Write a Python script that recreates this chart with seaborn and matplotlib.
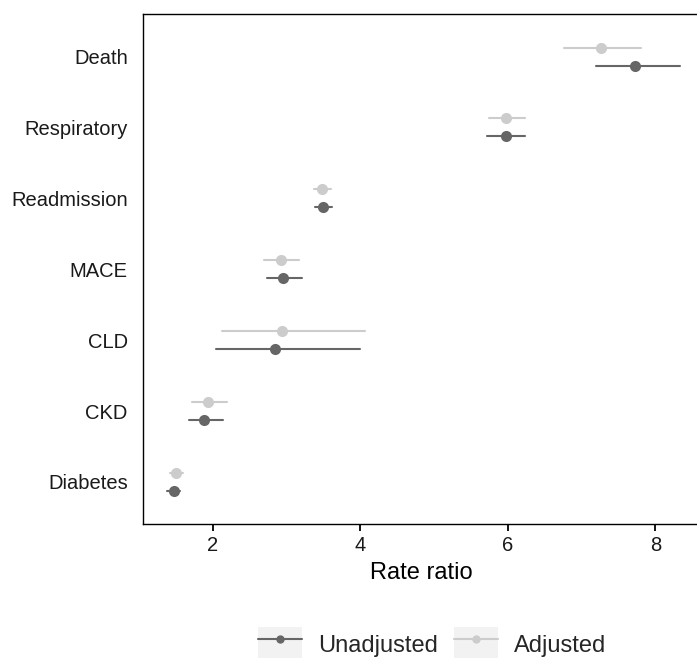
import pandas as pd
import seaborn as sns
import matplotlib.pyplot as plt
from matplotlib.lines import Line2D
from matplotlib.patches import Rectangle
from matplotlib.legend_handler import HandlerTuple

# Rate ratios with 95% CI
outcomes = ['Death', 'Respiratory', 'Readmission', 'MACE', 'CLD', 'CKD', 'Diabetes']

unadj_rr = [7.73, 5.97, 3.50, 2.95, 2.85, 1.88, 1.48]
unadj_lo = [7.19, 5.72, 3.38, 2.74, 2.04, 1.68, 1.38]
unadj_hi = [8.34, 6.23, 3.62, 3.21, 4.00, 2.14, 1.55]

adj_rr = [7.26, 5.97, 3.48, 2.93, 2.94, 1.94, 1.50]
adj_lo = [6.76, 5.74, 3.37, 2.69, 2.13, 1.72, 1.42]
adj_hi = [7.81, 6.23, 3.60, 3.17, 4.06, 2.19, 1.60]

models = ['Unadjusted', 'Adjusted']
colors = {'Unadjusted': '#666666', 'Adjusted': '#cccccc'}

# long form: lo / estimate / hi per outcome, so median = estimate and
# the 100% percentile interval = CI
rows = []
for name, rr, lo, hi in [('Unadjusted', unadj_rr, unadj_lo, unadj_hi),
                         ('Adjusted', adj_rr, adj_lo, adj_hi)]:
    for i, o in enumerate(outcomes):
        for v in (lo[i], rr[i], hi[i]):
            rows.append({'outcome': o, 'model': name, 'value': v})
df = pd.DataFrame(rows)

sns.set_style('white')
plt.rcParams['font.family'] = ['Liberation Sans', 'DejaVu Sans']

fig = plt.figure(figsize=(6.97, 6.58), dpi=100)
ax = fig.add_axes([0.2047, 0.2029, 0.80, 0.7758])

sns.pointplot(data=df, x='value', y='outcome', hue='model',
              order=outcomes, hue_order=['Adjusted', 'Unadjusted'],
              palette=colors, estimator='median', errorbar=('pi', 100),
              dodge=0.254, linestyle='none', markers='o',
              markersize=8, markeredgewidth=0,
              err_kws={'linewidth': 1.5}, legend=False, ax=ax)

ax.set_xlim(1.05, 8.61)
ax.set_ylim(6.6, -0.6)
ax.set_xticks([2, 4, 6, 8])
ax.set_xlabel('Rate ratio', fontsize=17, color='black', labelpad=5)
ax.set_ylabel('')
ax.tick_params(axis='x', length=5, width=1.3, color='black', pad=3,
               labelsize=14.5, labelcolor='#1a1a1a', bottom=True)
ax.tick_params(axis='y', length=0, pad=10.8, labelsize=14.5, labelcolor='#1a1a1a')
for s in ax.spines.values():
    s.set_visible(True)
    s.set_color('black')
    s.set_linewidth(1.0)

# ggplot-style legend keys with grey background
handles = []
for m in models:
    bg = Rectangle((0, 0), 1, 1, facecolor='#f2f2f2', edgecolor='none')
    ln = Line2D([], [], color=colors[m], linewidth=1.5, marker='o',
                markersize=6, markeredgewidth=0)
    handles.append((bg, ln))
fig.legend(handles, models, loc='center', bbox_to_anchor=(0.62, 0.021),
           ncol=2, frameon=False, fontsize=17, borderpad=0,
           handlelength=1.86, handleheight=1.86, handletextpad=0.69,
           columnspacing=0.68,
           handler_map={tuple: HandlerTuple(ndivide=1, pad=0)})

fig.savefig('out.png', dpi=100)
